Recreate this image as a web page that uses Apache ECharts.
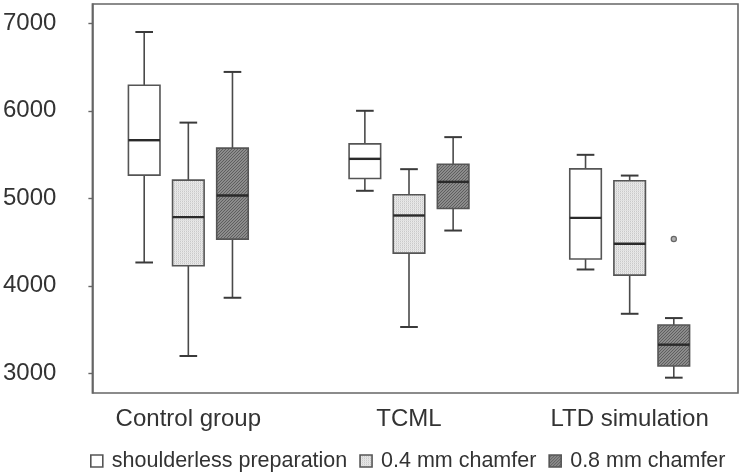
<!DOCTYPE html>
<html><head><meta charset="utf-8">
<script src="https://cdn.jsdelivr.net/npm/echarts@6/dist/echarts.min.js"></script>
<style>html,body{margin:0;padding:0;background:#fff}#c{width:740px;height:475px}</style>
</head><body><div id="c"></div>
<script>
const categories = ['Control group', 'TCML', 'LTD simulation'];
const seriesNames = ['shoulderless preparation', '0.4 mm chamfer', '0.8 mm chamfer'];
// [min, Q1, median, Q3, max] per category
const shoulderless = [[4267, 5265, 5664, 6292, 6900], [5086, 5226, 5451, 5622, 6000], [4187, 4306, 4777, 5337, 5497]];
const chamfer04 = [[3199, 4229, 4785, 5208, 5865], [3530, 4374, 4804, 5040, 5333], [3681, 4123, 4481, 5200, 5260]];
const chamfer08 = [[3864, 4534, 5032, 5573, 6444], [4632, 4884, 5188, 5390, 5699], [2951, 3084, 3328, 3552, 3632]];
// outliers: [categoryIndex, seriesIndex, value]
const outliers = [[2, 2, 4535]];
const yTicks = [3000, 4000, 5000, 6000, 7000];

function makePattern(kind) {
  const c = document.createElement('canvas');
  c.width = 6; c.height = 6;
  const g = c.getContext('2d');
  if (kind === 'light') {
    g.fillStyle = '#ececec'; g.fillRect(0, 0, 6, 6);
    g.fillStyle = '#c9c9c9';
    for (let x = 0; x < 6; x += 2) g.fillRect(x, 0, 1, 6);
    g.fillStyle = '#e0e0e0';
    for (let y = 0; y < 6; y += 2) g.fillRect(0, y, 6, 1);
  } else if (kind === 'dark') {
    g.fillStyle = '#8c8c8c'; g.fillRect(0, 0, 6, 6);
    g.strokeStyle = '#5e5e5e'; g.lineWidth = 1;
    for (let k = -6; k <= 12; k += 3) { g.beginPath(); g.moveTo(k, 6); g.lineTo(k + 6, 0); g.stroke(); }
  } else {
    g.fillStyle = '#ffffff'; g.fillRect(0, 0, 6, 6);
  }
  return { image: c, repeat: 'repeat' };
}
const fills = [makePattern('white'), makePattern('light'), makePattern('dark')];
const allData = [shoulderless, chamfer04, chamfer08];

function boxRenderer(sIdx) {
  return function (params, api) {
    const cat = api.value(0);
    const band = api.size([1, 0])[0];
    const offset = (sIdx - 1) * band * 0.2;
    const bw = band * 0.143;
    const cap = band * 0.08;
    const cx = api.coord([cat, api.value(3)])[0] + offset;
    const yMin = api.coord([cat, api.value(1)])[1];
    const yQ1 = api.coord([cat, api.value(2)])[1];
    const yMed = api.coord([cat, api.value(3)])[1];
    const yQ3 = api.coord([cat, api.value(4)])[1];
    const yMax = api.coord([cat, api.value(5)])[1];
    const lineStyle = { stroke: '#4a4a4a', lineWidth: 1.6, fill: null };
    return {
      type: 'group',
      children: [
        { type: 'line', shape: { x1: cx, y1: yQ3, x2: cx, y2: yMax }, style: lineStyle },
        { type: 'line', shape: { x1: cx, y1: yQ1, x2: cx, y2: yMin }, style: lineStyle },
        { type: 'line', shape: { x1: cx - cap / 2, y1: yMax, x2: cx + cap / 2, y2: yMax }, style: { stroke: '#3a3a3a', lineWidth: 2 } },
        { type: 'line', shape: { x1: cx - cap / 2, y1: yMin, x2: cx + cap / 2, y2: yMin }, style: { stroke: '#3a3a3a', lineWidth: 2 } },
        { type: 'rect', shape: { x: cx - bw / 2, y: yQ3, width: bw, height: yQ1 - yQ3 }, style: { fill: fills[sIdx], stroke: '#555', lineWidth: 1.6 } },
        { type: 'line', shape: { x1: cx - bw / 2, y1: yMed, x2: cx + bw / 2, y2: yMed }, style: { stroke: '#2a2a2a', lineWidth: 2.4 } }
      ]
    };
  };
}

const series = allData.map((arr, sIdx) => ({
  type: 'custom',
  name: seriesNames[sIdx],
  xAxisIndex: 1, yAxisIndex: 1,
  renderItem: boxRenderer(sIdx),
  encode: { x: 0, y: [1, 2, 3, 4, 5] },
  itemStyle: { color: fills[sIdx], borderColor: '#555' },
  data: arr.map((d, i) => [i].concat(d))
}));
series.push({
  type: 'custom',
  name: 'outliers',
  xAxisIndex: 1, yAxisIndex: 1,
  encode: { x: 0, y: 2 },
  renderItem: function (params, api) {
    const cat = api.value(0);
    const sIdx = api.value(1);
    const band = api.size([1, 0])[0];
    const p = api.coord([cat, api.value(2)]);
    return { type: 'circle', shape: { cx: p[0] + (sIdx - 1) * band * 0.2, cy: p[1], r: 2.6 }, style: { fill: '#b0b0b0', stroke: '#666', lineWidth: 1.2 } };
  },
  data: outliers
});

const yMin = 2776, yMax = 7220;
const chart = echarts.init(document.getElementById('c'), null, { renderer: 'canvas' });
chart.setOption({
  animation: false,
  backgroundColor: '#fff',
  grid: [
    { left: 89, right: 2, top: 4, bottom: 82, show: true, borderColor: '#666', borderWidth: 1.6, backgroundColor: 'transparent' },
    { left: 78, width: 671, top: 4, bottom: 82 }
  ],
  xAxis: [
    { type: 'category', gridIndex: 0, data: categories, show: false },
    { type: 'category', gridIndex: 1, data: categories,
      axisLine: { show: false }, axisTick: { show: false },
      axisLabel: { fontSize: 24, color: '#333', margin: 14, fontFamily: 'Liberation Sans' } }
  ],
  yAxis: [
    { type: 'value', gridIndex: 0, min: yMin, max: yMax,
      axisLine: { show: true, lineStyle: { color: '#666', width: 1.6 } },
      axisTick: { show: true, length: 4, lineStyle: { color: '#666', width: 1.4 } },
      splitLine: { show: false },
      axisLabel: { fontSize: 24, color: '#333', margin: 36, fontFamily: 'Liberation Sans',
        showMinLabel: false, showMaxLabel: false,
        formatter: v => (yTicks.indexOf(v) >= 0 ? String(v) : '') } },
    { type: 'value', gridIndex: 1, min: yMin, max: yMax, show: false }
  ],
  legend: {
    data: seriesNames.map((n, i) => ({ name: n, icon: 'rect', itemStyle: { color: fills[i], borderColor: '#555', borderWidth: 1.6 } })),
    left: 90, top: 450, width: 650, itemWidth: 12, itemHeight: 12, itemGap: 12,
    orient: 'horizontal', padding: 0,
    selectedMode: false,
    textStyle: { fontSize: 21.5, color: '#333', fontFamily: 'Liberation Sans', padding: [0, 0, 0, 4] }
  },
  series: series
});
</script></body></html>
